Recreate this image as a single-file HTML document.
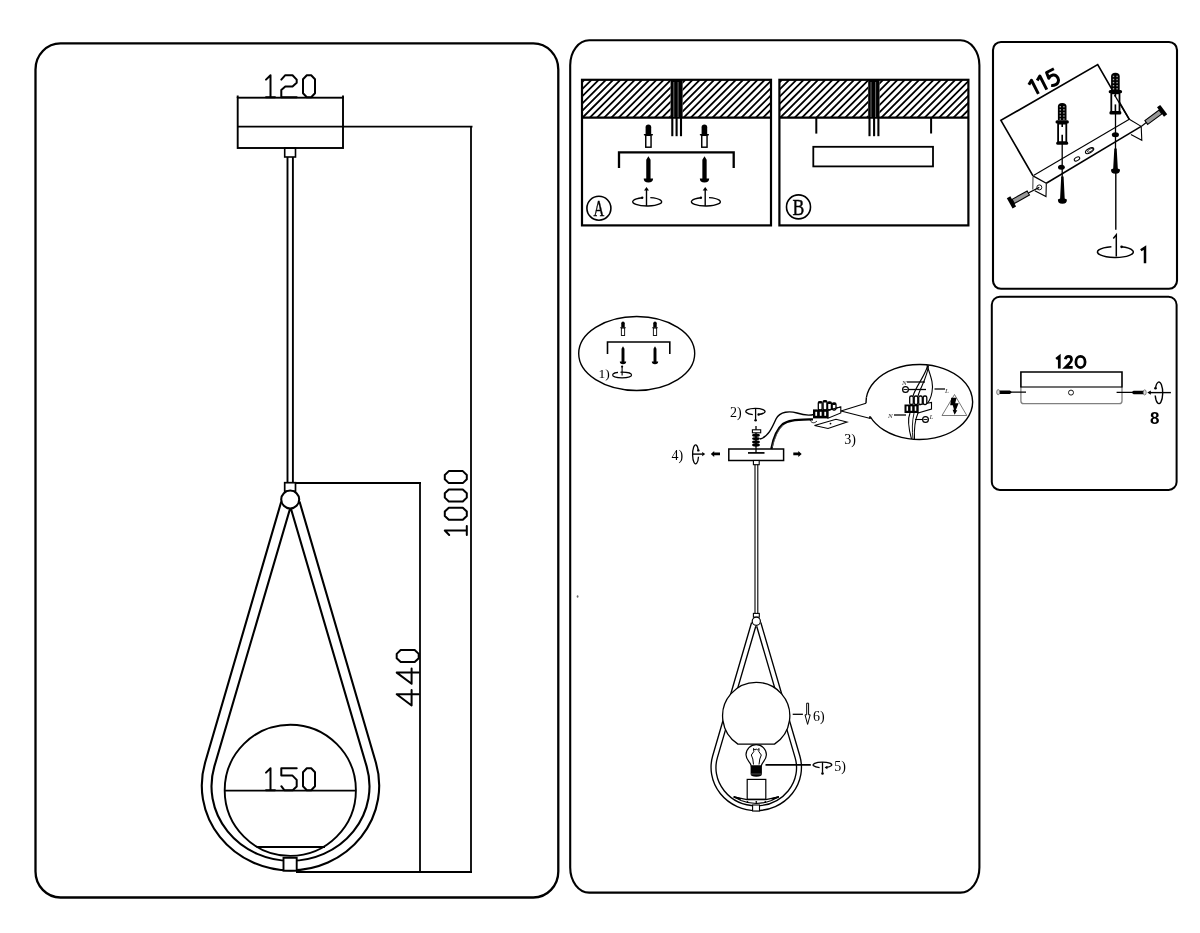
<!DOCTYPE html>
<html><head><meta charset="utf-8"><style>
html,body{margin:0;padding:0;background:#fff;}
body{width:1200px;height:933px;overflow:hidden;font-family:"Liberation Sans",sans-serif;}
svg{display:block;will-change:transform;}
</style></head><body>
<svg width="1200" height="933" viewBox="0 0 1200 933">
<rect x="35.5" y="43.4" width="522.8" height="854.1" rx="25" ry="26" fill="none" stroke="#000" stroke-width="2.3"/>
<rect x="570.2" y="40.2" width="409.19999999999993" height="852.4" rx="19" ry="25" fill="none" stroke="#000" stroke-width="2.1"/>
<rect x="993" y="42" width="184" height="246.8" rx="8" ry="8" fill="none" stroke="#000" stroke-width="2.1"/>
<rect x="991.8" y="296.8" width="184.79999999999995" height="193.09999999999997" rx="8" ry="8" fill="none" stroke="#000" stroke-width="2.0"/>
<rect x="237.7" y="97.7" width="105.3" height="50.3" fill="none" stroke="#000" stroke-width="1.9"/>
<line x1="237.7" y1="126.6" x2="472.5" y2="126.6" stroke="#000" stroke-width="1.9"/>
<line x1="237.7" y1="95.5" x2="237.7" y2="98" stroke="#000" stroke-width="1.9"/>
<line x1="343" y1="95.5" x2="343" y2="98" stroke="#000" stroke-width="1.9"/>
<rect x="284.7" y="148" width="10.8" height="9" fill="none" stroke="#000" stroke-width="1.6"/>
<line x1="287.5" y1="157" x2="287.5" y2="482.5" stroke="#000" stroke-width="1.9"/>
<line x1="292.9" y1="157" x2="292.9" y2="482.5" stroke="#000" stroke-width="1.9"/>
<rect x="284.7" y="482.7" width="10.8" height="8.6" fill="none" stroke="#000" stroke-width="1.7"/>
<line x1="295.5" y1="483" x2="421" y2="483" stroke="#000" stroke-width="1.8"/>
<line x1="420" y1="482.5" x2="420" y2="872.5" stroke="#000" stroke-width="1.8"/>
<line x1="471" y1="126" x2="471" y2="872.5" stroke="#000" stroke-width="1.8"/>
<line x1="296" y1="872" x2="472" y2="872" stroke="#000" stroke-width="1.8"/>
<path d="M281.30,501.50 L205.06,762.82 A88.7,84.8 0 1 0 375.92,762.76 L299.50,501.50" fill="none" stroke="#000" stroke-width="2.1"/>
<path d="M290.10,508.50 L214.37,766.42 A79.0,74.5 0 1 0 366.63,766.42 L290.90,508.50" fill="none" stroke="#000" stroke-width="2.1"/>
<circle cx="290.2" cy="499.5" r="9" fill="#fff" stroke="#000" stroke-width="2.1"/>
<circle cx="290.3" cy="790.3" r="65.6" fill="none" stroke="#000" stroke-width="1.9"/>
<line x1="224.7" y1="790.6" x2="355.9" y2="790.6" stroke="#000" stroke-width="1.8"/>
<line x1="256.5" y1="847" x2="325" y2="847" stroke="#000" stroke-width="1.8"/>
<rect x="283.5" y="857.8" width="13.2" height="12.9" fill="#fff" stroke="#000" stroke-width="1.9"/>
<defs><clipPath id="hA"><rect x="582" y="79.8" width="88.6" height="37.8"/><rect x="682.6" y="79.8" width="88.4" height="37.8"/></clipPath><clipPath id="hB"><rect x="779.4" y="79.8" width="88.8" height="37.8"/><rect x="879.5" y="79.8" width="89" height="37.8"/></clipPath></defs>
<path clip-path="url(#hA)" d="M539.26,117.60L577.06,79.80M546.48,117.60L584.28,79.80M553.70,117.60L591.50,79.80M560.92,117.60L598.72,79.80M568.14,117.60L605.94,79.80M575.36,117.60L613.16,79.80M582.58,117.60L620.38,79.80M589.80,117.60L627.60,79.80M597.02,117.60L634.82,79.80M604.24,117.60L642.04,79.80M611.46,117.60L649.26,79.80M618.68,117.60L656.48,79.80M625.90,117.60L663.70,79.80M633.12,117.60L670.92,79.80M640.34,117.60L678.14,79.80M647.56,117.60L685.36,79.80M654.78,117.60L692.58,79.80M662.00,117.60L699.80,79.80M669.22,117.60L707.02,79.80M676.44,117.60L714.24,79.80M683.66,117.60L721.46,79.80M690.88,117.60L728.68,79.80M698.10,117.60L735.90,79.80M705.32,117.60L743.12,79.80M712.54,117.60L750.34,79.80M719.76,117.60L757.56,79.80M726.98,117.60L764.78,79.80M734.20,117.60L772.00,79.80M741.42,117.60L779.22,79.80M748.64,117.60L786.44,79.80M755.86,117.60L793.66,79.80M763.08,117.60L800.88,79.80M770.30,117.60L808.10,79.80M777.52,117.60L815.32,79.80" stroke="#000" stroke-width="1.85" fill="none"/>
<path clip-path="url(#hB)" d="M736.96,117.60L774.76,79.80M744.18,117.60L781.98,79.80M751.40,117.60L789.20,79.80M758.62,117.60L796.42,79.80M765.84,117.60L803.64,79.80M773.06,117.60L810.86,79.80M780.28,117.60L818.08,79.80M787.50,117.60L825.30,79.80M794.72,117.60L832.52,79.80M801.94,117.60L839.74,79.80M809.16,117.60L846.96,79.80M816.38,117.60L854.18,79.80M823.60,117.60L861.40,79.80M830.82,117.60L868.62,79.80M838.04,117.60L875.84,79.80M845.26,117.60L883.06,79.80M852.48,117.60L890.28,79.80M859.70,117.60L897.50,79.80M866.92,117.60L904.72,79.80M874.14,117.60L911.94,79.80M881.36,117.60L919.16,79.80M888.58,117.60L926.38,79.80M895.80,117.60L933.60,79.80M903.02,117.60L940.82,79.80M910.24,117.60L948.04,79.80M917.46,117.60L955.26,79.80M924.68,117.60L962.48,79.80M931.90,117.60L969.70,79.80M939.12,117.60L976.92,79.80M946.34,117.60L984.14,79.80M953.56,117.60L991.36,79.80M960.78,117.60L998.58,79.80M968.00,117.60L1005.80,79.80M975.22,117.60L1013.02,79.80" stroke="#000" stroke-width="1.85" fill="none"/>
<rect x="582" y="79.8" width="189" height="145.6" fill="none" stroke="#000" stroke-width="2.2"/>
<rect x="779.4" y="79.8" width="189" height="145.6" fill="none" stroke="#000" stroke-width="2.2"/>
<line x1="582" y1="117.6" x2="771" y2="117.6" stroke="#000" stroke-width="2.2"/>
<line x1="779.4" y1="117.6" x2="968.4" y2="117.6" stroke="#000" stroke-width="2.2"/>
<rect x="670.6" y="79.8" width="12.0" height="37.8" fill="#000"/>
<line x1="673.8" y1="82" x2="673.8" y2="117" stroke="#bbb" stroke-width="0.6"/>
<line x1="678.1" y1="82" x2="678.1" y2="117" stroke="#bbb" stroke-width="0.6"/>
<line x1="672.3" y1="117" x2="672.3" y2="136.2" stroke="#000" stroke-width="2.1"/>
<line x1="676.6" y1="117" x2="676.6" y2="136.2" stroke="#000" stroke-width="2.1"/>
<line x1="681.0" y1="117" x2="681.0" y2="136.2" stroke="#000" stroke-width="2.1"/>
<rect x="868.2" y="79.8" width="11.299999999999955" height="37.8" fill="#000"/>
<line x1="871.0" y1="82" x2="871.0" y2="117" stroke="#bbb" stroke-width="0.6"/>
<line x1="875.6" y1="82" x2="875.6" y2="117" stroke="#bbb" stroke-width="0.6"/>
<line x1="869.5" y1="117" x2="869.5" y2="136.2" stroke="#000" stroke-width="2.1"/>
<line x1="874.1" y1="117" x2="874.1" y2="136.2" stroke="#000" stroke-width="2.1"/>
<line x1="878.4" y1="117" x2="878.4" y2="136.2" stroke="#000" stroke-width="2.1"/>
<path d="M645.6,133.9 L645.6,127.3 Q645.6,124.5 648.4,124.5 Q651.1999999999999,124.5 651.1999999999999,127.3 L651.1999999999999,133.9 Z" fill="#000"/><rect x="643.75" y="133.9" width="9.3" height="1.5" rx="0.75" fill="#000"/><rect x="645.75" y="135.3" width="5.3" height="11.9" fill="#fff" stroke="#000" stroke-width="1.45"/>
<path d="M701.6,133.9 L701.6,127.3 Q701.6,124.5 704.4,124.5 Q707.1999999999999,124.5 707.1999999999999,127.3 L707.1999999999999,133.9 Z" fill="#000"/><rect x="699.75" y="133.9" width="9.3" height="1.5" rx="0.75" fill="#000"/><rect x="701.75" y="135.3" width="5.3" height="11.9" fill="#fff" stroke="#000" stroke-width="1.45"/>
<path d="M619,168 L619,152.4 L733.7,152.4 L733.7,168" fill="none" stroke="#000" stroke-width="2.3"/>
<path d="M648.4,156.2 L650.55,159.7 L650.55,178.5 L653.1,178.5 Q653.1,182.5 648.4,182.5 Q643.6999999999999,182.5 643.6999999999999,178.5 L646.25,178.5 L646.25,159.7 Z" fill="#000"/>
<path d="M704.5,156.2 L706.65,159.7 L706.65,178.5 L709.2,178.5 Q709.2,182.5 704.5,182.5 Q699.8,182.5 699.8,178.5 L702.35,178.5 L702.35,159.7 Z" fill="#000"/>
<path d="M650.30,197.60 A14.5,4.25 0 1 1 642.20,197.76" fill="none" stroke="#000" stroke-width="1.4"/>
<circle cx="642.20" cy="197.76" r="1.20" fill="#000"/>
<line x1="646.5" y1="206.0" x2="646.5" y2="188.9" stroke="#000" stroke-width="1.4"/>
<path d="M646.5,186.9 L649.00,190.60 L644.00,190.60 Z" fill="#000"/>
<path d="M709.00,197.60 A14.5,4.25 0 1 1 700.90,197.76" fill="none" stroke="#000" stroke-width="1.4"/>
<circle cx="700.90" cy="197.76" r="1.20" fill="#000"/>
<line x1="705.2" y1="206.0" x2="705.2" y2="188.9" stroke="#000" stroke-width="1.4"/>
<path d="M705.2,186.9 L707.70,190.60 L702.70,190.60 Z" fill="#000"/>
<circle cx="598.9" cy="208.2" r="12.0" fill="none" stroke="#000" stroke-width="1.6"/>
<text x="0" y="0" transform="translate(598.9,215.89999999999998) scale(0.63,1)" text-anchor="middle" font-family="Liberation Serif" font-size="23.6" stroke="#000" stroke-width="0.45">A</text>
<circle cx="798.5" cy="206.9" r="12.0" fill="none" stroke="#000" stroke-width="1.6"/>
<text x="0" y="0" transform="translate(798.5,215.0) scale(0.74,1)" text-anchor="middle" font-family="Liberation Serif" font-size="24" stroke="#000" stroke-width="0.45">B</text>
<line x1="816.3" y1="117.6" x2="816.3" y2="133.6" stroke="#000" stroke-width="2.0"/>
<line x1="931.1" y1="117.6" x2="931.1" y2="133.5" stroke="#000" stroke-width="2.0"/>
<rect x="813.3" y="146.8" width="119.7" height="19.6" fill="none" stroke="#000" stroke-width="1.8"/>
<ellipse cx="577.6" cy="596.5" rx="0.9" ry="1.3" fill="#666"/>
<ellipse cx="636.7" cy="353.5" rx="58" ry="37" fill="none" stroke="#000" stroke-width="1.4"/>
<path d="M621.264,327.22799999999995 L621.264,323.13599999999997 Q621.264,321.4 623,321.4 Q624.736,321.4 624.736,323.13599999999997 L624.736,327.22799999999995 Z" fill="#000"/><rect x="620.117" y="327.22799999999995" width="5.766" height="0.9299999999999999" rx="0.46499999999999997" fill="#000"/><rect x="621.357" y="328.096" width="3.286" height="7.378" fill="#fff" stroke="#000" stroke-width="0.899"/>
<path d="M653.264,327.22799999999995 L653.264,323.13599999999997 Q653.264,321.4 655,321.4 Q656.736,321.4 656.736,323.13599999999997 L656.736,327.22799999999995 Z" fill="#000"/><rect x="652.117" y="327.22799999999995" width="5.766" height="0.9299999999999999" rx="0.46499999999999997" fill="#000"/><rect x="653.357" y="328.096" width="3.286" height="7.378" fill="#fff" stroke="#000" stroke-width="0.899"/>
<path d="M607.5,354 L607.5,342 L669.8,342 L669.8,354" fill="none" stroke="#000" stroke-width="1.6"/>
<path d="M623,346.3 L624.462,348.68 L624.462,361.464 L626.196,361.464 Q626.196,364.184 623,364.184 Q619.804,364.184 619.804,361.464 L621.538,361.464 L621.538,348.68 Z" fill="#000"/>
<path d="M655,346.3 L656.462,348.68 L656.462,361.464 L658.196,361.464 Q658.196,364.184 655,364.184 Q651.804,364.184 651.804,361.464 L653.538,361.464 L653.538,348.68 Z" fill="#000"/>
<ellipse cx="622.1" cy="375" rx="9.5" ry="2.9" fill="none" stroke="#000" stroke-width="1.1"/>
<rect x="618" y="370" width="2.5" height="3" fill="#fff"/>
<line x1="622.1" y1="375.5" x2="622.1" y2="367" stroke="#000" stroke-width="1.1"/>
<circle cx="622.1" cy="366.6" r="1.1" fill="#000"/>
<text x="598.5" y="377.5" font-family="Liberation Serif" font-size="13.5" transform="" >1)</text>
<rect x="728.8" y="449" width="54.8" height="11.5" fill="#fff" stroke="#000" stroke-width="1.5"/>
<line x1="748" y1="452.9" x2="764.5" y2="452.9" stroke="#000" stroke-width="1.7"/>
<line x1="756" y1="426" x2="756" y2="452.9" stroke="#000" stroke-width="1.3"/>
<rect x="752.4" y="429.8" width="8.3" height="3" fill="#fff" stroke="#000" stroke-width="1.1"/>
<ellipse cx="756" cy="435.2" rx="3.9" ry="1.7" fill="#000"/>
<ellipse cx="756" cy="438.6" rx="3.9" ry="1.7" fill="#000"/>
<ellipse cx="756" cy="442.0" rx="3.9" ry="1.7" fill="#000"/>
<ellipse cx="756" cy="445.0" rx="3.9" ry="1.7" fill="#000"/>
<rect x="753.4" y="460.5" width="5.8" height="4.2" fill="#fff" stroke="#000" stroke-width="1.1"/>
<line x1="755" y1="464.7" x2="755" y2="613.4" stroke="#000" stroke-width="1.1"/>
<line x1="757.8" y1="464.7" x2="757.8" y2="613.4" stroke="#000" stroke-width="1.1"/>
<path d="M760,439 C768,437 772,428 776,419 C780,411 790,411 797,413 C803,415 808,416 814,414.5" fill="none" stroke="#000" stroke-width="1.4"/>
<path d="M771.3,449 C773,440 777,429 783,424 C788,420 795,420 813,419.3" fill="none" stroke="#000" stroke-width="2.3"/>
<path d="M772.3,447 C774,440 777.5,430 783,425" fill="none" stroke="#888" stroke-width="0.6"/>
<path d="M814.5,425.5 L828,428.5 L847,422 L836,419.3 Z" fill="#fff" stroke="#000" stroke-width="1.1"/>
<circle cx="830.5" cy="423.6" r="0.9" fill="#000"/>
<path d="M810,420 C812,424 815,423 817,421" fill="none" stroke="#000" stroke-width="0.9"/>
<path d="M828,410 L840.8,407 L840.8,413 L828,418.3 Z" fill="#fff" stroke="#000" stroke-width="1.1"/>
<rect x="813" y="409.8" width="15.2" height="8.6" fill="#000"/>
<rect x="815.3" y="411.8" width="1.8" height="4" fill="#fff"/>
<rect x="819.8" y="411.8" width="1.8" height="4" fill="#fff"/>
<rect x="824.3" y="411.8" width="1.8" height="4" fill="#fff"/>
<rect x="818.3000000000001" y="401.6" width="3.8" height="8.399999999999977" rx="1.4" fill="#fff" stroke="#000" stroke-width="1.3"/>
<rect x="818.3000000000001" y="401.6" width="3.8" height="2" rx="1" fill="#000"/>
<rect x="823.1" y="400.6" width="3.8" height="9.399999999999977" rx="1.4" fill="#fff" stroke="#000" stroke-width="1.3"/>
<rect x="823.1" y="400.6" width="3.8" height="2" rx="1" fill="#000"/>
<rect x="827.6" y="402" width="3.8" height="8" rx="1.4" fill="#fff" stroke="#000" stroke-width="1.3"/>
<rect x="827.6" y="402" width="3.8" height="2" rx="1" fill="#000"/>
<rect x="832.2" y="403" width="3.8" height="7" rx="1.4" fill="#fff" stroke="#000" stroke-width="1.3"/>
<rect x="832.2" y="403" width="3.8" height="2" rx="1" fill="#000"/>
<path d="M813,410 L828,410 L840.8,407" fill="none" stroke="#000" stroke-width="1.1"/>
<line x1="841" y1="411" x2="866" y2="403.2" stroke="#000" stroke-width="1.1"/>
<line x1="841" y1="411" x2="870.5" y2="418.5" stroke="#000" stroke-width="1.1"/>
<path d="M870.15,416.50 A53.3,37.5 0 1 0 866.39,397.50" fill="none" stroke="#000" stroke-width="1.4"/>
<path d="M866,403.2 Q866.09,401.00 866.39,397.50" fill="none" stroke="#000" stroke-width="1.4"/>
<path d="M870.5,418.5 Q869.15,417.50 870.15,416.50" fill="none" stroke="#000" stroke-width="1.4"/>
<path d="M927,365 C930,375 934,383 932,392 C931,398 929,402 926,405" fill="none" stroke="#000" stroke-width="1.1"/>
<path d="M928.5,365.5 C927,378 921,386 918,396" fill="none" stroke="#000" stroke-width="1.1"/>
<path d="M927.5,366 C925,376 916,386 913,396" fill="none" stroke="#000" stroke-width="1.1"/>
<path d="M911.5,439 C909,430 907,420 910,413" fill="none" stroke="#000" stroke-width="1.1"/>
<path d="M914.5,439 C914,430 915,420 918,413" fill="none" stroke="#000" stroke-width="1.1"/>
<path d="M913,439 C912,430 912,422 914,413" fill="none" stroke="#000" stroke-width="0.9"/>
<path d="M918,405 L931.5,402.5 L931.5,409 L918,413 Z" fill="#fff" stroke="#000" stroke-width="1.1"/>
<rect x="904.5" y="404.5" width="13.8" height="8.5" fill="#000"/>
<rect x="906.5" y="406.3" width="1.6" height="4.5" fill="#fff"/>
<rect x="910.6" y="406.3" width="1.6" height="4.5" fill="#fff"/>
<rect x="914.7" y="406.3" width="1.6" height="4.5" fill="#fff"/>
<rect x="909.7" y="396" width="3.6" height="8.5" rx="1.5" fill="#fff" stroke="#000" stroke-width="1.3"/>
<rect x="914.2" y="396" width="3.6" height="8.5" rx="1.5" fill="#fff" stroke="#000" stroke-width="1.3"/>
<rect x="918.7" y="396" width="3.6" height="8.5" rx="1.5" fill="#fff" stroke="#000" stroke-width="1.3"/>
<rect x="923.2" y="396" width="3.6" height="8.5" rx="1.5" fill="#fff" stroke="#000" stroke-width="1.3"/>
<line x1="907" y1="382" x2="925" y2="382" stroke="#000" stroke-width="1.3"/>
<line x1="908.5" y1="389.5" x2="926" y2="389.5" stroke="#000" stroke-width="1.3"/>
<line x1="934.5" y1="389" x2="945" y2="389" stroke="#000" stroke-width="1.3"/>
<line x1="894" y1="415" x2="906" y2="415" stroke="#000" stroke-width="1.3"/>
<line x1="915" y1="419.5" x2="925" y2="419.5" stroke="#000" stroke-width="1.1"/>
<circle cx="905.5" cy="389.5" r="2.9" fill="#fff" stroke="#000" stroke-width="1.2"/>
<line x1="903.5" y1="389.5" x2="907.5" y2="389.5" stroke="#000" stroke-width="0.9"/>
<circle cx="925.5" cy="419.5" r="2.9" fill="#fff" stroke="#000" stroke-width="1.2"/>
<line x1="923.5" y1="419.5" x2="927.5" y2="419.5" stroke="#000" stroke-width="0.9"/>
<text x="902" y="385" font-family="Liberation Serif" font-style="italic" font-size="7" fill="#333">N</text>
<text x="945" y="393" font-family="Liberation Serif" font-style="italic" font-size="7" fill="#333">L</text>
<text x="888" y="418" font-family="Liberation Serif" font-style="italic" font-size="7" fill="#333">N</text>
<text x="929.5" y="418.5" font-family="Liberation Serif" font-style="italic" font-size="7" fill="#333">L</text>
<path d="M954.5,394.5 L966.8,415.5 L942,415.5 Z" fill="none" stroke="#555" stroke-width="0.8"/>
<path d="M951.2,397.8 L956.6,397.8 L955.2,403.2 L958.6,403.2 L955.8,410.2 L957.3,410.2 L954.6,414.8 L952.6,409.8 L954,409.8 L952.8,405.2 L950.2,405.2 Z" fill="#000"/>
<text x="730" y="417" font-family="Liberation Serif" font-size="14">2)</text>
<text x="844.2" y="444" font-family="Liberation Serif" font-size="14">3)</text>
<text x="671.5" y="459.5" font-family="Liberation Serif" font-size="14">4)</text>
<path d="M752.80,414.58 A9.6,3.2 0 1 1 758.60,414.52" fill="none" stroke="#000" stroke-width="1.3"/>
<circle cx="758.60" cy="414.52" r="1.2" fill="#000"/>
<line x1="755.6" y1="408.4" x2="755.6" y2="419.5" stroke="#000" stroke-width="1.3"/>
<circle cx="755.6" cy="420.2" r="1.3" fill="#000"/>
<path d="M698.51,456.70 A3.0,9.5 0 1 1 698.33,450.40" fill="none" stroke="#000" stroke-width="1.3"/>
<circle cx="698.33" cy="450.40" r="1.2" fill="#000"/>
<line x1="692.6" y1="454.1" x2="702.5" y2="454.1" stroke="#000" stroke-width="1.4"/>
<path d="M705.2,454.1 L702.2,451.9 L702.2,456.3 Z" fill="#000"/>
<path d="M710.8,453.9 L714.2,450.9 L714.2,452.5 L720,452.5 L720,455.3 L714.2,455.3 L714.2,456.9 Z" fill="#000"/>
<path d="M801.7,453.9 L798.3,450.9 L798.3,452.5 L793.3,452.5 L793.3,455.3 L798.3,455.3 L798.3,456.9 Z" fill="#000"/>
<rect x="753.4" y="613.4" width="5.9" height="3.8" fill="#fff" stroke="#000" stroke-width="1.1"/>
<path d="M751.60,622.50 L712.71,755.80 A45.2,43.2 0 1 0 799.78,755.77 L760.80,622.50" fill="none" stroke="#000" stroke-width="1.35"/>
<path d="M755.80,626.30 L717.40,757.60 A40.3,38.0 0 1 0 795.10,757.60 L756.70,626.30" fill="none" stroke="#000" stroke-width="1.35"/>
<circle cx="756.3" cy="621.3" r="4.1" fill="#fff" stroke="#000" stroke-width="1.2"/>
<path d="M737.93,744.1 A33.6,33.6 0 1 1 774.47,744.1 Z" fill="#fff" stroke="#000" stroke-width="1.3"/>
<path d="M751.2,765.8 C750.5,762 746,760 746,754.8 A10.2,10.2 0 1 1 766.4,754.8 C766.4,760 762,762 761.3,765.8 Z" fill="#fff" stroke="#000" stroke-width="1.2"/>
<path d="M753.5,764.5 L752.8,759 L751.3,755 L753.8,751.6 L753.5,748.5 L755.2,750 L756.3,748.8 L757.4,750 L759.1,748.5 L758.8,751.6 L761.3,755 L759.8,759 L759,764.5" fill="none" stroke="#000" stroke-width="1.0"/>
<path d="M750.6,766 L761.9,766 L761.9,774 Q761.9,776.8 756.3,776.8 Q750.6,776.8 750.6,774 Z" fill="#000"/>
<line x1="751" y1="774" x2="761.5" y2="774" stroke="#888" stroke-width="0.6"/>
<rect x="747.2" y="779.4" width="18.6" height="19.8" fill="#fff" stroke="#000" stroke-width="1.2"/>
<path d="M733.7,796.8 L747,799.6 L765.8,799.6 L778.8,796.8 L771.5,800.5 Q756.3,806.5 741,800.5 Z" fill="#fff" stroke="#000" stroke-width="1.2"/>
<path d="M733.7,796.8 L741,799" stroke="#000" stroke-width="1.8"/><path d="M778.8,796.8 L771.5,799" stroke="#000" stroke-width="1.8"/>
<circle cx="747.5" cy="802" r="0.9" fill="#000"/>
<circle cx="756.3" cy="802" r="0.9" fill="#000"/>
<circle cx="765.3" cy="802" r="0.9" fill="#000"/>
<rect x="752.6" y="805" width="6.9" height="6" fill="#fff" stroke="#000" stroke-width="1.1"/>
<line x1="792.7" y1="714.3" x2="802.9" y2="714.3" stroke="#000" stroke-width="1.3"/>
<path d="M806.7,703.2 L808.6,703.2 L808.6,714.8 L810.2,714.8 L807.6,724.4 L805,714.8 L806.7,714.8 Z" fill="#fff" stroke="#000" stroke-width="1.0"/>
<text x="813" y="721.2" font-family="Liberation Serif" font-size="14">6)</text>
<line x1="765.5" y1="764.9" x2="810.8" y2="764.9" stroke="#000" stroke-width="1.6"/>
<path d="M819.60,767.57 A9.3,2.8 0 1 1 825.80,767.51" fill="none" stroke="#000" stroke-width="1.3"/>
<path d="M824.60,767.51 L827.40,765.71 L827.40,769.31 Z" fill="#000"/>
<line x1="822.5" y1="762.1" x2="822.5" y2="772.8" stroke="#000" stroke-width="1.3"/>
<circle cx="822.5" cy="773.5" r="1.3" fill="#000"/>
<text x="834.3" y="770.7" font-family="Liberation Serif" font-size="14">5)</text>
<path d="M1033,175.9 L1000.9,120.4 L1097.7,64.6 L1129.3,119.3" fill="none" stroke="#000" stroke-width="1.65" stroke-linejoin="miter"/>
<g transform="translate(1038.4,93.9) rotate(-27)" fill="none" stroke="#000" stroke-width="2.95" stroke-linejoin="round"><path d="M-4.4,-12.4 L0,-15.3 L0,0"/><path d="M5,-12.4 L9.4,-15.3 L9.4,0"/><path d="M25.2,-15.4 L17,-15.4 L16.3,-9.2 C18,-10.4 20,-10.6 21.5,-10.2 C23.7,-9.5 24.6,-7.6 24.6,-5.3 C24.6,-2.3 22.3,-0.4 19.6,-0.4 C17.9,-0.4 16.4,-0.9 15.2,-1.8" stroke-linecap="butt"/></g>
<path d="M1033.9,175.2 L1129.3,119.3 L1141.2,126.4 L1046.3,183.3 Z" fill="#fff" stroke="none"/>
<line x1="1033.9" y1="175.2" x2="1129.3" y2="119.3" stroke="#000" stroke-width="1.1"/>
<line x1="1046.3" y1="183.3" x2="1141.2" y2="126.4" stroke="#000" stroke-width="1.6"/>
<line x1="1129.3" y1="119.3" x2="1141.2" y2="126.4" stroke="#000" stroke-width="1.1"/>
<line x1="1033" y1="175.9" x2="1046.3" y2="183.3" stroke="#000" stroke-width="1.3"/>
<path d="M1141.2,126.4 L1141.8,140.2 L1130.9,134.4" fill="none" stroke="#000" stroke-width="1.1"/>
<path d="M1046.3,183.3 L1046,196.6 L1034.8,190.8" fill="none" stroke="#000" stroke-width="1.1"/>
<line x1="1033" y1="176.5" x2="1032.8" y2="189.5" stroke="#000" stroke-width="0.8"/>
<ellipse cx="1077" cy="158.9" rx="3.0" ry="1.7" transform="rotate(-30 1077 158.9)" fill="#fff" stroke="#000" stroke-width="1"/>
<ellipse cx="1089.6" cy="150.6" rx="4.6" ry="2.1" transform="rotate(-30 1089.6 150.6)" fill="#fff" stroke="#000" stroke-width="1.1"/>
<ellipse cx="1090.3" cy="150.3" rx="3.2" ry="1.2" transform="rotate(-30 1090.3 150.3)" fill="none" stroke="#000" stroke-width="0.7"/>
<circle cx="1039.3" cy="187.4" r="2.5" fill="#fff" stroke="#000" stroke-width="0.9"/>
<line x1="1062.2" y1="143" x2="1062.2" y2="178" stroke="#000" stroke-width="1.3"/>
<line x1="1115.5" y1="113" x2="1115.5" y2="150" stroke="#000" stroke-width="1.3"/>
<line x1="1115.8" y1="173" x2="1115.8" y2="229.7" stroke="#000" stroke-width="1.4"/>
<path d="M1057.9,120.3 L1057.9,106.5 Q1057.9,103 1062.2,103 Q1066.5,103 1066.5,106.5 L1066.5,120.3 Z" fill="#000"/><rect x="1059.60" y="106.00" width="1.4" height="1.4" fill="#aaa"/><rect x="1063.20" y="106.00" width="1.4" height="1.4" fill="#aaa"/><rect x="1059.60" y="109.10" width="1.4" height="1.4" fill="#aaa"/><rect x="1063.20" y="109.10" width="1.4" height="1.4" fill="#aaa"/><rect x="1059.60" y="112.20" width="1.4" height="1.4" fill="#aaa"/><rect x="1063.20" y="112.20" width="1.4" height="1.4" fill="#aaa"/><rect x="1059.60" y="115.30" width="1.4" height="1.4" fill="#aaa"/><rect x="1063.20" y="115.30" width="1.4" height="1.4" fill="#aaa"/><rect x="1059.60" y="118.40" width="1.4" height="1.4" fill="#aaa"/><rect x="1063.20" y="118.40" width="1.4" height="1.4" fill="#aaa"/><rect x="1055.5" y="120.3" width="13.4" height="3.3" rx="1.6" fill="#000"/><rect x="1058.1000000000001" y="123.6" width="8.2" height="18.8" fill="#fff" stroke="#000" stroke-width="1.8"/><rect x="1056.2" y="141.4" width="12" height="3.4" rx="1.6" fill="#000"/><line x1="1062.2" y1="123" x2="1062.2" y2="127" stroke="#000" stroke-width="1.6"/><line x1="1062.2" y1="134.7" x2="1062.2" y2="143" stroke="#000" stroke-width="1.6"/>
<path d="M1111.1000000000001,90.0 L1111.1000000000001,76.2 Q1111.1000000000001,72.7 1115.4,72.7 Q1119.7,72.7 1119.7,76.2 L1119.7,90.0 Z" fill="#000"/><rect x="1112.80" y="75.70" width="1.4" height="1.4" fill="#aaa"/><rect x="1116.40" y="75.70" width="1.4" height="1.4" fill="#aaa"/><rect x="1112.80" y="78.80" width="1.4" height="1.4" fill="#aaa"/><rect x="1116.40" y="78.80" width="1.4" height="1.4" fill="#aaa"/><rect x="1112.80" y="81.90" width="1.4" height="1.4" fill="#aaa"/><rect x="1116.40" y="81.90" width="1.4" height="1.4" fill="#aaa"/><rect x="1112.80" y="85.00" width="1.4" height="1.4" fill="#aaa"/><rect x="1116.40" y="85.00" width="1.4" height="1.4" fill="#aaa"/><rect x="1112.80" y="88.10" width="1.4" height="1.4" fill="#aaa"/><rect x="1116.40" y="88.10" width="1.4" height="1.4" fill="#aaa"/><rect x="1108.7" y="90.0" width="13.4" height="3.3" rx="1.6" fill="#000"/><rect x="1111.3000000000002" y="93.30000000000001" width="8.2" height="18.8" fill="#fff" stroke="#000" stroke-width="1.8"/><rect x="1109.4" y="111.1" width="12" height="3.4" rx="1.6" fill="#000"/><line x1="1115.4" y1="92.7" x2="1115.4" y2="96.7" stroke="#000" stroke-width="1.6"/><line x1="1115.4" y1="104.4" x2="1115.4" y2="112.7" stroke="#000" stroke-width="1.6"/>
<line x1="1114.5" y1="95" x2="1129.3" y2="119.3" stroke="#000" stroke-width="1.3"/>
<ellipse cx="1061.4" cy="167.2" rx="3.4" ry="2.5" fill="#000"/>
<ellipse cx="1115.4" cy="134.7" rx="3.6" ry="2.5" fill="#000"/>
<path d="M1061.2,176.5 L1063.6000000000001,176.5 L1064.7,198.60000000000002 L1066.9,199.60000000000002 Q1067.2,203.8 1062.4,203.8 Q1057.6000000000001,203.8 1057.9,199.60000000000002 L1060.1000000000001,198.60000000000002 Z" fill="#000"/>
<path d="M1114.3,148.6 L1116.7,148.6 L1117.8,168.60000000000002 L1120.0,169.60000000000002 Q1120.3,173.8 1115.5,173.8 Q1110.7,173.8 1111.0,169.60000000000002 L1113.2,168.60000000000002 Z" fill="#000"/>
<line x1="1039.3" y1="187.4" x2="1028.3" y2="193" stroke="#000" stroke-width="1.2"/>
<path d="M1027.16,190.95 L1012.06,199.35 L1014.34,203.45 L1029.44,195.05 Z" fill="#999" stroke="#000" stroke-width="1.1"/>
<path d="M1010.33,196.24 L1006.84,198.19 L1012.57,208.50 L1016.07,206.56 Z" fill="#000"/>
<line x1="1141.2" y1="126.4" x2="1146.3" y2="122.5" stroke="#000" stroke-width="1.2"/>
<path d="M1147.70,124.39 L1161.90,113.89 L1159.10,110.11 L1144.90,120.61 Z" fill="#999" stroke="#000" stroke-width="1.1"/>
<path d="M1164.01,116.74 L1167.22,114.37 L1160.21,104.88 L1156.99,107.26 Z" fill="#000"/>
<path d="M1121.20,246.80 A17.9,5.5 0 1 1 1111.40,246.64" fill="none" stroke="#000" stroke-width="1.5"/>
<circle cx="1121.60" cy="246.80" r="1.35" fill="#000"/>
<path d="M1113.3,238.4 L1116.3,234.8 L1116.3,256.5" fill="none" stroke="#000" stroke-width="1.5"/>
<path d="M1140.8,250.3 L1145,247.6 L1145,263.3" fill="none" stroke="#000" stroke-width="2.5"/>
<g fill="none" stroke="#000" stroke-width="2.75"><path d="M1056.2,359 L1059.3,356.6 L1059.3,368.6"/><path d="M1065.3,359.2 C1065.7,357.3 1067,356.4 1068.5,356.4 C1070.4,356.4 1071.5,357.7 1071.5,359.4 C1071.5,361.6 1069.3,363.5 1065.4,367.4 L1072.7,367.4"/><ellipse cx="1080.5" cy="361.9" rx="4.6" ry="5.6"/></g>
<path d="M1020.9,387 L1020.9,401 Q1020.9,403.7 1023.6,403.7 L1119.3,403.7 Q1122,403.7 1122,401 L1122,387" fill="none" stroke="#808080" stroke-width="1.3"/>
<line x1="1020.9" y1="387" x2="1122" y2="387" stroke="#000" stroke-width="1.3"/>
<line x1="1020.9" y1="387" x2="1122" y2="387" stroke="#808080" stroke-width="1.4"/>
<path d="M1020.9,387.6 L1020.9,372 L1122,372 L1122,387.6" fill="none" stroke="#000" stroke-width="1.6"/>
<circle cx="1071" cy="392.6" r="2.5" fill="none" stroke="#000" stroke-width="0.9"/>
<path d="M999.6,390.4 L1009.8,390.4 L1011.6,391.5 L1026,391.5 L1026,392.8 L1011.6,392.8 L1009.8,393.9 L999.6,393.9 Z" fill="#000"/>
<ellipse cx="998.2" cy="392.15" rx="1.5" ry="2.6" fill="#ddd" stroke="#555" stroke-width="0.7"/>
<path d="M1116.6,391.8 L1132,391.8 L1133.6,390.7 L1143.8,390.7 L1143.8,394.2 L1133.6,394.2 L1132,393.1 L1116.6,393.1 Z" fill="#000"/>
<ellipse cx="1144.7" cy="392.4" rx="1.5" ry="2.6" fill="#ddd" stroke="#555" stroke-width="0.7"/>
<line x1="1149.5" y1="392.6" x2="1170.9" y2="392.6" stroke="#000" stroke-width="1.4"/>
<path d="M1147.3,392.6 L1150.8,390.4 L1150.8,394.8 Z" fill="#000"/>
<path d="M1155.45,388.30 A3.8,10.8 0 1 1 1155.22,395.50" fill="none" stroke="#000" stroke-width="1.4"/>
<circle cx="1155.45" cy="388.30" r="1.3" fill="#000"/>
<text x="1150" y="424.1" font-family="Liberation Sans" font-weight="bold" font-size="17">8</text>
<g transform="translate(266,97.2)" fill="none" stroke="#000" stroke-width="2.0" stroke-linejoin="round" stroke-linecap="round"><path transform="translate(0.00,0)" d="M0,-17.6 L4.5,-22 L4.5,0 M0,0 L9,0"/><path transform="translate(15.30,0)" d="M0,-17.6 L4,-22 L11.2,-22 L15.4,-17.6 L15.4,-14.4 L11.2,-10.6 L4,-10.6 L0,-7.2 L0,0 L15.4,0"/><path transform="translate(37.00,0)" d="M3.8,-22 L8.2,-22 L12,-18 L12,-4 L8.2,0 L3.8,0 L0,-4 L0,-18 Z"/></g>
<g transform="translate(266,790.2)" fill="none" stroke="#000" stroke-width="2.0" stroke-linejoin="round" stroke-linecap="round"><path transform="translate(0.00,0)" d="M0,-17.6 L4.5,-22 L4.5,0 M0,0 L9,0"/><path transform="translate(15.30,0)" d="M15.4,-22 L0,-22 L0,-14.6 L11.2,-14.6 L15.4,-10.3 L15.4,-3.8 L11.4,0 L3,0 L0,-4"/><path transform="translate(37.00,0)" d="M3.8,-22 L8.2,-22 L12,-18 L12,-4 L8.2,0 L3.8,0 L0,-4 L0,-18 Z"/></g>
<g transform="translate(466.8,535) rotate(-90)" fill="none" stroke="#000" stroke-width="2.0" stroke-linejoin="round" stroke-linecap="round"><path transform="translate(0.00,0)" d="M0,-17.6 L4.5,-22 L4.5,0 M0,0 L9,0"/><path transform="translate(15.30,0)" d="M3.8,-22 L8.2,-22 L12,-18 L12,-4 L8.2,0 L3.8,0 L0,-4 L0,-18 Z"/><path transform="translate(33.60,0)" d="M3.8,-22 L8.2,-22 L12,-18 L12,-4 L8.2,0 L3.8,0 L0,-4 L0,-18 Z"/><path transform="translate(51.90,0)" d="M3.8,-22 L8.2,-22 L12,-18 L12,-4 L8.2,0 L3.8,0 L0,-4 L0,-18 Z"/></g>
<g transform="translate(418.7,705.5) rotate(-90)" fill="none" stroke="#000" stroke-width="2.0" stroke-linejoin="round" stroke-linecap="round"><path transform="translate(0.00,0)" d="M11.2,0 L11.2,-22 L0,-7.1 L15.4,-7.1"/><path transform="translate(21.70,0)" d="M11.2,0 L11.2,-22 L0,-7.1 L15.4,-7.1"/><path transform="translate(43.40,0)" d="M3.8,-22 L8.2,-22 L12,-18 L12,-4 L8.2,0 L3.8,0 L0,-4 L0,-18 Z"/></g>
</svg>
</body></html>
